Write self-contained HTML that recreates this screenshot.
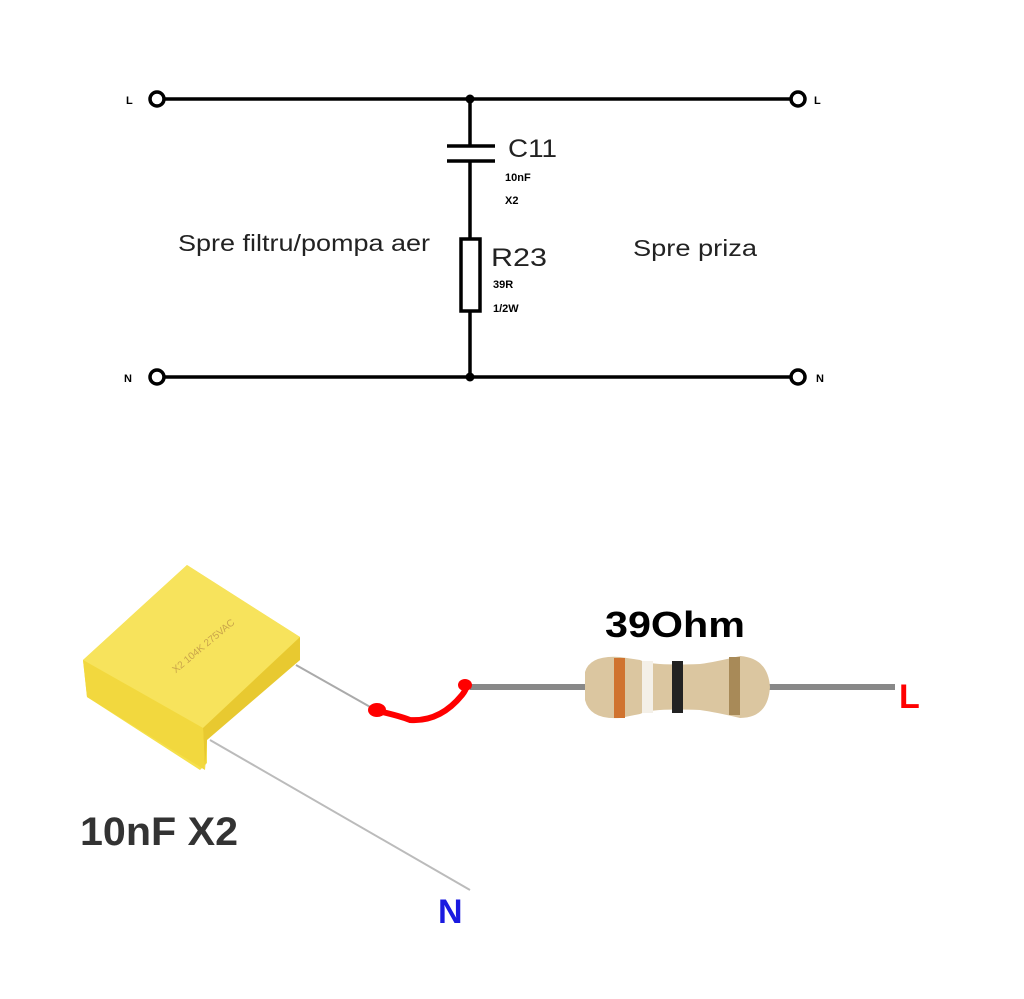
<!DOCTYPE html>
<html><head><style>html,body{margin:0;padding:0;background:#fff;}svg{display:block}</style></head>
<body>
<svg width="1024" height="999" xmlns="http://www.w3.org/2000/svg" font-family="Liberation Sans, sans-serif">
<rect width="1024" height="999" fill="#fff"/>
<g stroke="#000" stroke-width="3.5" fill="none">
<line x1="164" y1="99" x2="790" y2="99"/>
<line x1="164" y1="377" x2="790" y2="377"/>
<circle cx="157" cy="99" r="7" fill="#fff"/>
<circle cx="798" cy="99" r="7" fill="#fff"/>
<circle cx="157" cy="377" r="7" fill="#fff"/>
<circle cx="798" cy="377" r="7" fill="#fff"/>
<line x1="470" y1="99" x2="470" y2="145"/>
<line x1="447" y1="146" x2="495" y2="146"/>
<line x1="447" y1="161" x2="495" y2="161"/>
<line x1="470" y1="161" x2="470" y2="239"/>
<rect x="461" y="239" width="19" height="72" fill="#fff"/>
<line x1="470" y1="311" x2="470" y2="377"/>
</g>
<circle cx="470" cy="99" r="4.5"/><circle cx="470" cy="377" r="4.5"/>
<g font-size="11" font-weight="bold">
<text x="126" y="104">L</text><text x="814" y="104">L</text>
<text x="124" y="382">N</text><text x="816" y="382">N</text>
</g>
<text x="508" y="157" font-size="25" fill="#222" textLength="49" lengthAdjust="spacingAndGlyphs">C11</text>
<text x="505" y="181" font-size="11" font-weight="bold">10nF</text>
<text x="505" y="204" font-size="11" font-weight="bold">X2</text>
<text x="491" y="266" font-size="25" fill="#222" textLength="56" lengthAdjust="spacingAndGlyphs">R23</text>
<text x="493" y="288" font-size="11" font-weight="bold">39R</text>
<text x="493" y="312" font-size="11" font-weight="bold">1/2W</text>
<text x="178" y="251" font-size="23" fill="#222" textLength="252" lengthAdjust="spacingAndGlyphs">Spre filtru/pompa aer</text>
<text x="633" y="256" font-size="23" fill="#222" textLength="124" lengthAdjust="spacingAndGlyphs">Spre priza</text>

<line x1="296" y1="665" x2="372" y2="708" stroke="#aaa" stroke-width="2"/>
<line x1="210" y1="740" x2="470" y2="890" stroke="#bbb" stroke-width="2"/>
<polygon points="83,660 187,565 300,637 300,660 207,737 207,763 200,770 87,697" fill="#f5e04a"/>
<polygon points="83,660 187,565 300,637 203,728" fill="#f7e35c"/>
<polygon points="203,728 300,637 300,660 207,740 205,770" fill="#e8c930"/>
<polygon points="83,660 203,728 205,770 87,697" fill="#f2d83e"/>
<text x="160" y="650" font-size="10" fill="#c9a44a" transform="rotate(-40 200 640)">X2 104K 275VAC</text>

<line x1="470" y1="687" x2="895" y2="687" stroke="#888" stroke-width="6"/>
<path d="M585,672 Q590,655 620,657 L640,660 Q650,666 700,664 Q715,662 740,656 Q768,658 770,687 Q768,718 740,718 Q715,712 700,710 Q650,708 640,714 L620,718 Q590,720 585,700 Z" fill="#dbc6a0"/>
<rect x="614" y="658" width="11" height="60" fill="#d0732f"/>
<rect x="642" y="661" width="11" height="52" fill="#f4f0e8"/>
<rect x="672" y="661" width="11" height="52" fill="#222"/>
<rect x="729" y="657" width="11" height="58" fill="#a88a58"/>
<path d="M378,711 Q400,716 410,720 Q440,722 462,695 Q470,685 462,684" stroke="#f00" stroke-width="6" fill="none" stroke-linecap="round"/>
<ellipse cx="377" cy="710" rx="9" ry="7" fill="#f00"/>
<ellipse cx="465" cy="685" rx="7" ry="6" fill="#f00"/>

<text x="80" y="845" font-size="40" font-weight="bold" fill="#333" textLength="158" lengthAdjust="spacingAndGlyphs">10nF X2</text>
<text x="605" y="637" font-size="36" font-weight="bold" fill="#000" textLength="140" lengthAdjust="spacingAndGlyphs">39Ohm</text>
<text x="899" y="708" font-size="34" font-weight="bold" fill="#f00">L</text>
<text x="438" y="923" font-size="34" font-weight="bold" fill="#1a1ae0">N</text>
</svg>
</body></html>
